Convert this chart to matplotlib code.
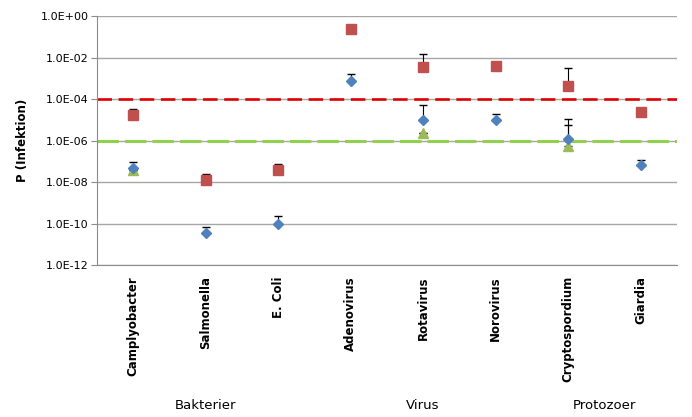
import numpy as np
import matplotlib.pyplot as plt
from matplotlib.ticker import FixedLocator, NullLocator

categories = ["Camplyobacter", "Salmonella", "E. Coli", "Adenovirus",
              "Rotavirus", "Norovirus", "Cryptospordium", "Giardia"]
groups = ["Bakterier", "Virus", "Protozoer"]
group_pos = [1.0, 4.0, 6.5]

# blue diamonds, red squares, green triangles (nan = not measured)
blue = [4.7e-8, 3.5e-11, 1.0e-10, 7.4e-4, 1.0e-5, 1.0e-5, 1.2e-6, 6.6e-8]
blue_top = [9e-8, 7e-11, 2.2e-10, 1.6e-3, 5e-5, 1.9e-5, 1.1e-5, 1.1e-7]
red = [1.7e-5, 1.3e-8, 3.8e-8, 2.4e-1, 3.5e-3, 3.9e-3, 4.3e-4, 2.3e-5]
red_top = [3.3e-5, 2.5e-8, 7e-8, 2.4e-1, 1.5e-2, 5.5e-3, 3e-3, 2.3e-5]
green = [4e-8, np.nan, np.nan, np.nan, 2.3e-6, np.nan, 5.4e-7, np.nan]
green_top = [4e-8, np.nan, np.nan, np.nan, 2.3e-6, np.nan, 5.6e-6, np.nan]

limit_red = 1e-4
limit_green = 1e-6
yticks = [1e0, 1e-2, 1e-4, 1e-6, 1e-8, 1e-10, 1e-12]
ytick_labels = ["1.0E+00", "1.0E-02", "1.0E-04", "1.0E-06",
                "1.0E-08", "1.0E-10", "1.0E-12"]

fig = plt.figure(figsize=(6.92, 4.17), dpi=100)
ax = fig.add_axes([0.140, 0.3645, 0.838, 0.597])
x = np.arange(len(categories))

ax.set_yscale("log")
ax.set_ylim(1e-12, 1e0)
ax.set_xlim(-0.5, len(categories) - 0.5)
ax.yaxis.set_major_locator(FixedLocator(yticks))
ax.yaxis.set_minor_locator(NullLocator())
ax.set_yticklabels(ytick_labels, fontsize=8, family="DejaVu Sans")
ax.grid(axis="y", color="#a6a6a6", linewidth=1.0, zorder=0)
ax.set_axisbelow(True)

for s in ["top", "right"]:
    ax.spines[s].set_visible(False)
for s in ["left", "bottom"]:
    ax.spines[s].set_color("#8c8c8c")
ax.tick_params(axis="y", length=4, color="#8c8c8c", pad=2)
ax.tick_params(axis="x", length=0, pad=8)

# threshold lines
ax.axhline(limit_red, color="#e00000", linewidth=1.9, dashes=(5.5, 2.5), zorder=2)
ax.axhline(limit_green, color="#92d050", linewidth=2.2, dashes=(7, 2), zorder=2)


def upper_err(vals, tops):
    vals = np.asarray(vals, float)
    tops = np.asarray(tops, float)
    return [np.zeros_like(vals), np.clip(tops - vals, 0, None)]


ax.errorbar(x, green, yerr=upper_err(green, green_top), fmt="^", color="#9bbb59",
            markersize=7.5, ecolor="black", elinewidth=0.8, capsize=3, zorder=3)
ax.errorbar(x, red, yerr=upper_err(red, red_top), fmt="s", color="#c0504d",
            markersize=7.5, ecolor="black", elinewidth=0.8, capsize=3, zorder=4)
ax.errorbar(x, blue, yerr=upper_err(blue, blue_top), fmt="D", color="#4f81bd",
            markersize=5.2, ecolor="black", elinewidth=0.8, capsize=3, zorder=5)

ax.set_xticks(x)
ax.set_xticklabels(categories, rotation=90, fontsize=8.5, fontweight="bold",
                   va="top", ha="center")
ax.set_ylabel("P (Infektion)", fontsize=8.5, fontweight="bold", labelpad=8)

for name, pos in zip(groups, group_pos):
    ax.text(pos, -0.565, name, transform=ax.get_xaxis_transform(),
            ha="center", va="center", fontsize=9.5)

fig.savefig("out.png", dpi=100)
